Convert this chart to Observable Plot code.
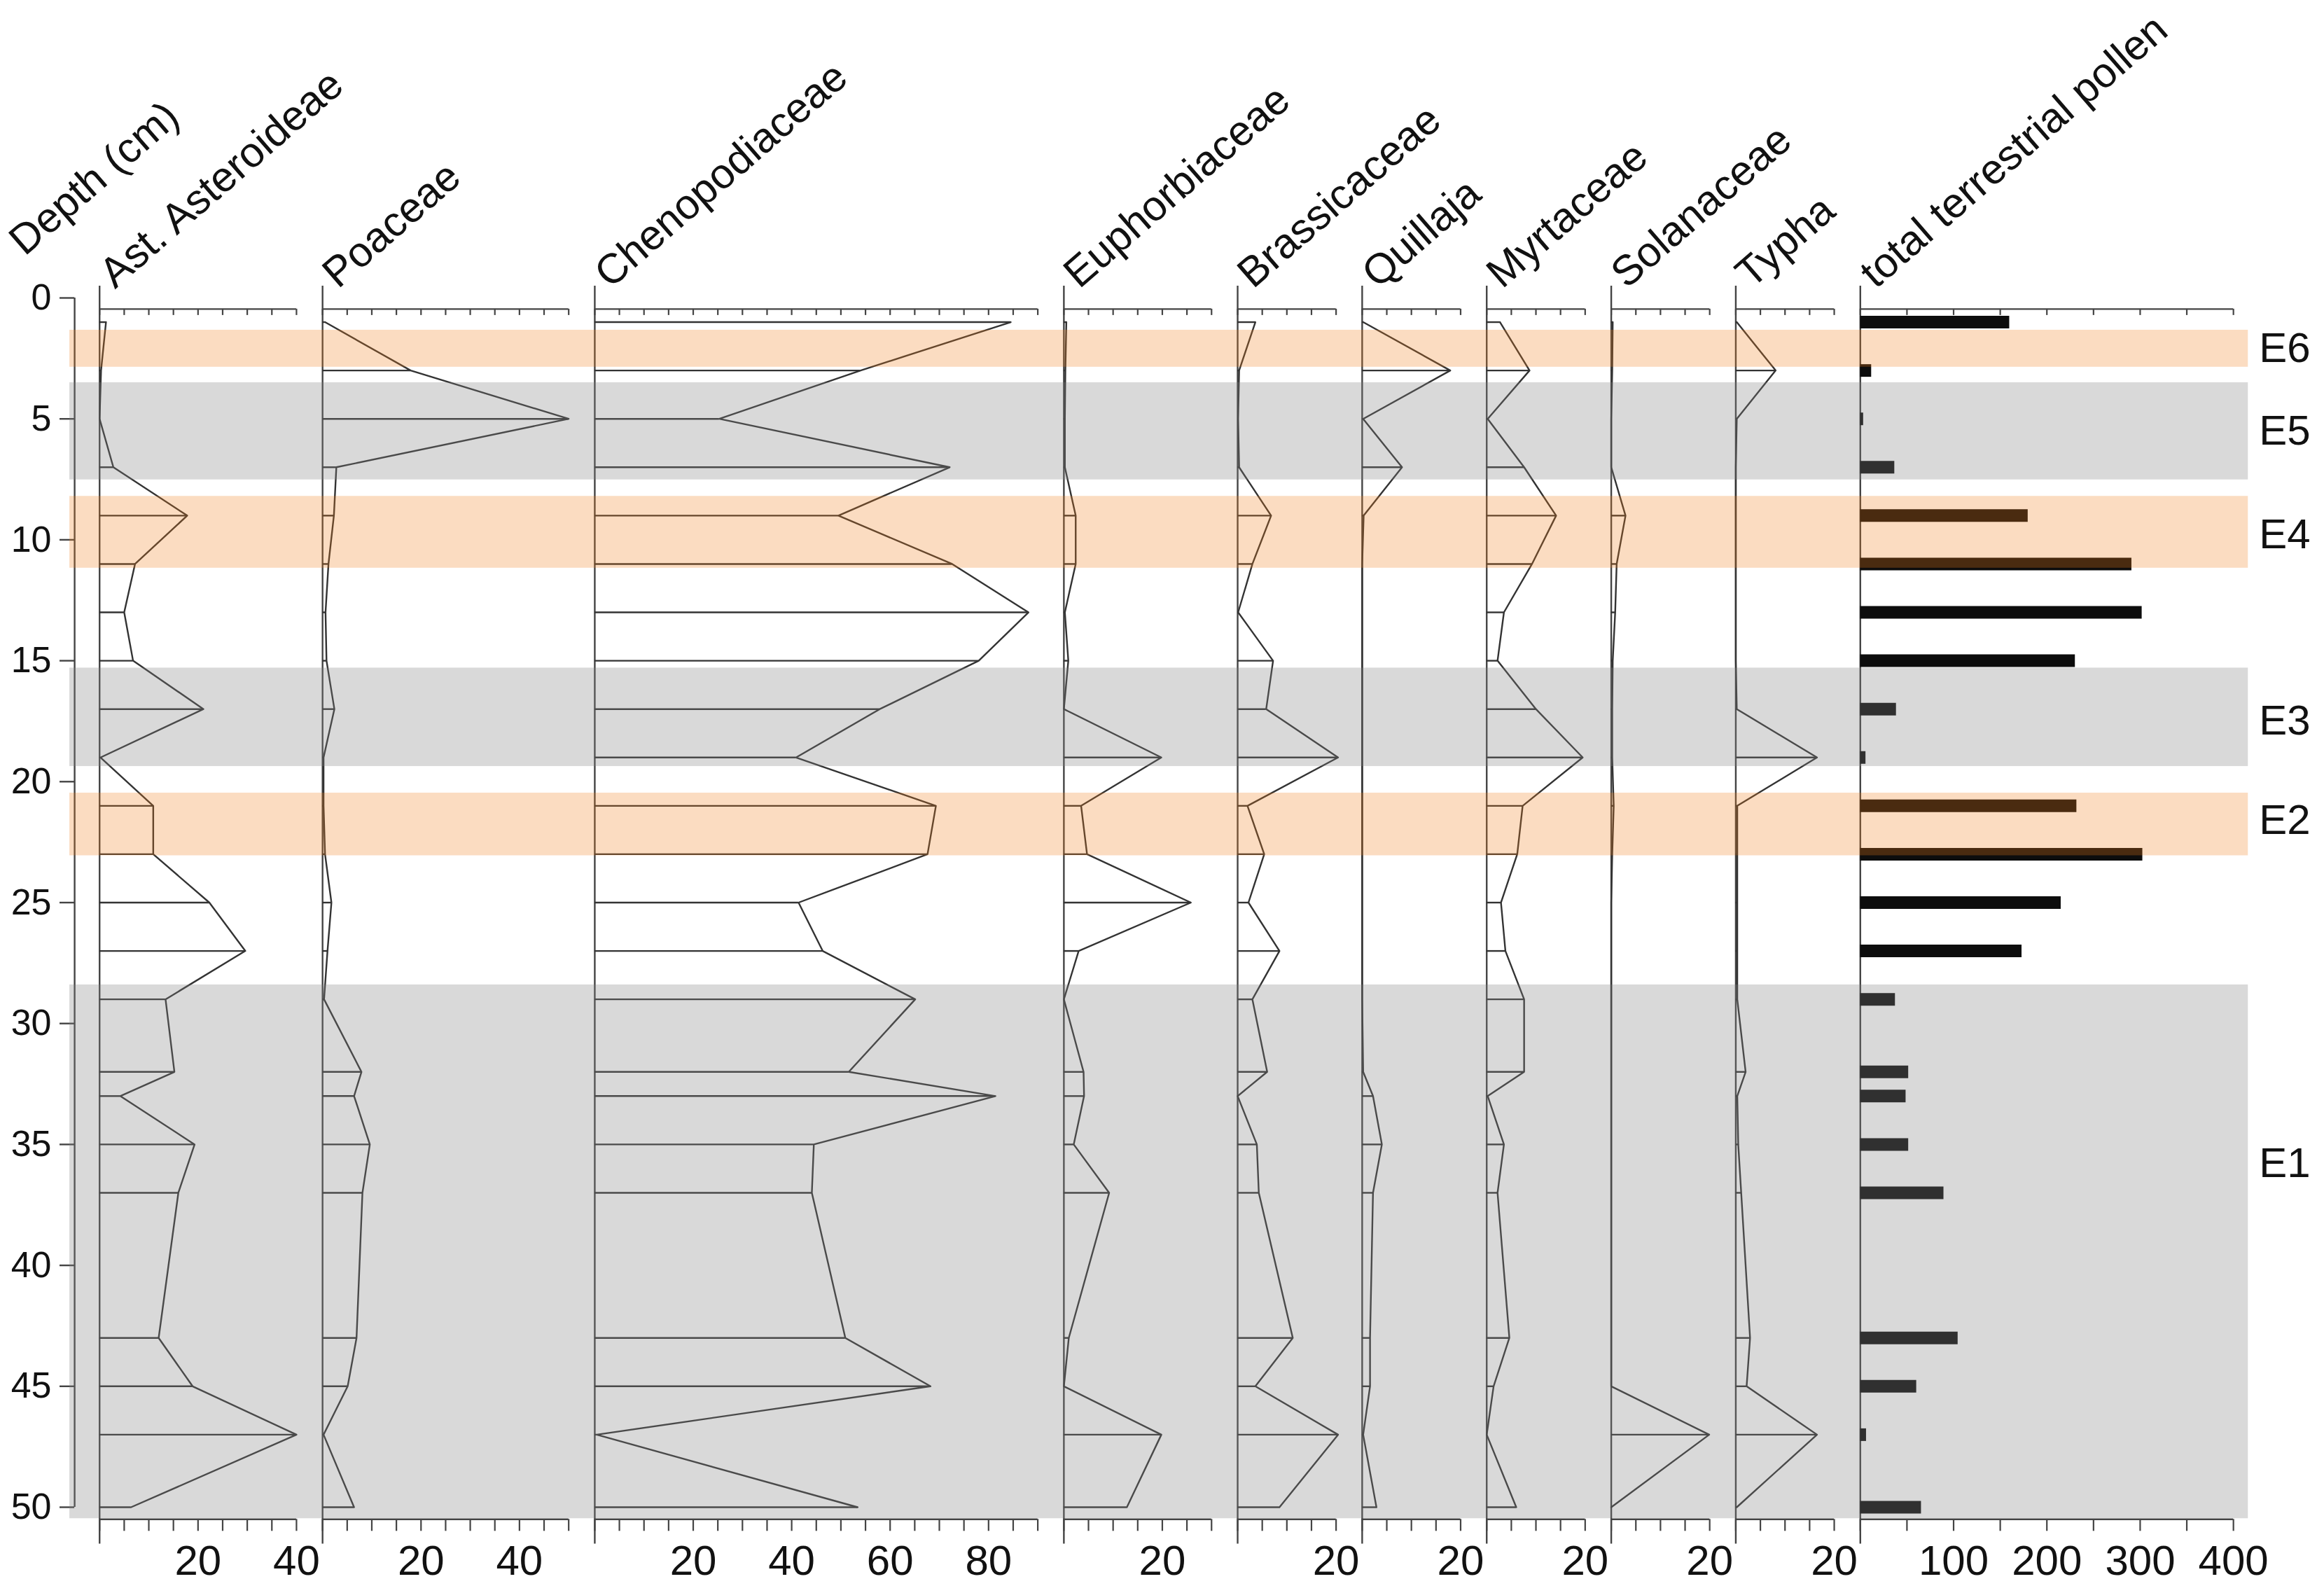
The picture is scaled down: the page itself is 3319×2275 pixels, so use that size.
<!DOCTYPE html>
<html>
<head>
<meta charset="utf-8">
<script src="https://cdn.jsdelivr.net/npm/d3@7"></script>
<script src="https://cdn.jsdelivr.net/npm/@observablehq/plot@0.6"></script>
<style>
  html, body { margin: 0; padding: 0; background: #fff; }
  svg { display: block; }
</style>
</head>
<body>
<div id="chart"></div>
<script>
// ---------------- DATA ----------------
const depths = [1, 3, 5, 7, 9, 11, 13, 15, 17, 19, 21, 23, 25, 27, 29, 32, 33, 35, 37, 43, 45, 47, 50];

const taxa = ["Ast. Asteroideae", "Poaceae", "Chenopodiaceae", "Euphorbiaceae", "Brassicaceae",
              "Quillaja", "Myrtaceae", "Solanaceae", "Typha"];
const taxaMax = [40, 50, 90, 30, 20, 20, 20, 20, 20];

const asteroideae   = [1.3, 0.3, 0, 2.8, 17.8, 7.2, 5.0, 6.8, 21.1, 0.2, 10.9, 10.9, 22.3, 29.6, 13.4, 15.2, 4.2, 19.3, 16.0, 12.0, 18.9, 40.0, 6.4];
const poaceae       = [0.5, 17.9, 50, 2.8, 2.3, 1.2, 0.6, 0.8, 2.4, 0.2, 0.2, 0.5, 1.8, 1.0, 0.3, 7.9, 6.4, 9.6, 8.1, 6.9, 5.1, 0.2, 6.4];
const chenopodiaceae= [84.5, 54, 25.3, 72.1, 49.5, 72.6, 88.1, 78.0, 57.9, 40.9, 69.3, 67.6, 41.4, 46.3, 65.1, 51.6, 81.4, 44.5, 44.1, 50.9, 68.2, 0.4, 53.4];
const euphorbiaceae = [0.5, 0.3, 0.2, 0.2, 2.4, 2.4, 0.2, 0.9, 0, 19.8, 3.5, 4.7, 25.8, 3.0, 0, 4.0, 4.1, 2.0, 9.2, 1.0, 0, 19.8, 12.8];
const brassicaceae  = [3.6, 0.3, 0.1, 0.3, 6.8, 3.0, 0.1, 7.2, 5.8, 20.4, 2.0, 5.4, 2.2, 8.5, 3.0, 6.0, 0, 3.9, 4.3, 11.2, 3.6, 20.4, 8.5];
const quillaja      = [0.2, 17.9, 0.2, 8.1, 0.3, 0, 0, 0, 0, 0, 0, 0, 0, 0, 0, 0.2, 2.2, 4.0, 2.2, 1.6, 1.6, 0.2, 2.9];
const myrtaceae     = [2.7, 8.7, 0.2, 7.6, 14.1, 9.2, 3.5, 2.2, 10.0, 19.5, 7.3, 6.2, 2.9, 3.8, 7.6, 7.6, 0.2, 3.5, 2.2, 4.6, 1.4, 0, 6.0];
const solanaceae    = [0.3, 0.2, 0, 0, 2.9, 1.1, 0.8, 0.3, 0.2, 0.2, 0.5, 0.2, 0, 0, 0, 0, 0, 0, 0, 0, 0, 19.9, 0];
const typha         = [0.2, 8.1, 0.2, 0, 0, 0, 0, 0, 0.2, 16.5, 0.3, 0.3, 0.3, 0.3, 0.3, 2.0, 0.3, 0.5, 1.1, 2.9, 2.2, 16.5, 0.2];

const totalLabel = "total terrestrial pollen";
const totalMax = 400;
const totalPollen = [160, 12, 3.4, 36.8, 179.8, 291, 302, 230.4, 38.6, 5.9, 232, 302.7, 215.2, 173.2, 37.5, 51.7, 48.9, 51.7, 89.5, 104.7, 60.3, 6.5, 65.4];

const depthTicks = [0, 5, 10, 15, 20, 25, 30, 35, 40, 45, 50];
const depthTitle = "Depth (cm)";

const zoneNames  = ["E6", "E5", "E4", "E3", "E2", "E1"];
const zoneTop    = [1.33, 3.5, 8.2, 15.3, 20.47, 28.4];
const zoneBottom = [2.86, 7.52, 11.17, 19.37, 23.06, 50.47];
const zoneKind   = ["orange", "gray", "orange", "gray", "orange", "gray"];
const zoneLabelDepth = [2.1, 5.5, 9.8, 17.5, 21.6, 35.8];

// ---------------- LAYOUT ----------------
const W = 3319, H = 2275;
const X_DOMAIN = [-20.16, 451.97];   // percent units across the page
const GAP = 5.3;                      // gap between panels (percent units)
const TOTAL_WIDTH = 75.8;             // width of the count panel (percent units)
const TOP_AXIS = 0.46, BOTTOM_AXIS = 50.5, BASE_TOP = -0.49, BASE_BOTTOM = 51.52;
const HEADER_Y = -0.35;
const DEPTH_AXIS_X = -5.07;
const ZONE_X1 = -6.07, ZONE_X2 = 436.5, ZONE_LABEL_X = 438.7;
const FONT = "'Liberation Sans', Arial, Helvetica, sans-serif";

const seriesValues = [asteroideae, poaceae, chenopodiaceae, euphorbiaceae, brassicaceae, quillaja, myrtaceae, solanaceae, typha];

const panels = [];
let off = 0;
taxa.forEach((name, i) => {
  panels.push({name, max: taxaMax[i], offset: off, k: 1, tickStep: 5, labelStep: 20, values: seriesValues[i], bars: false});
  off += taxaMax[i] + GAP;
});
panels.push({name: totalLabel, max: totalMax, offset: off, k: TOTAL_WIDTH / totalMax, tickStep: 50, labelStep: 100, values: totalPollen, bars: true});

const ticks = panels.flatMap(p => d3.range(0, p.max + 1e-9, p.tickStep).map(v => ({
  x: p.offset + v * p.k, v, label: v > 0 && v % p.labelStep === 0
})));

const curves = panels.filter(p => !p.bars).flatMap(p => depths.map((d, i) => ({
  name: p.name, depth: d, x0: p.offset, x: p.offset + p.values[i] * p.k
})));
const barsPanel = panels[panels.length - 1];
const bars = depths.map((d, i) => ({depth: d, x0: barsPanel.offset, x: barsPanel.offset + totalPollen[i] * barsPanel.k}));

const zones = zoneNames.map((name, i) => ({
  name, top: zoneTop[i], bottom: zoneBottom[i], kind: zoneKind[i], labelDepth: zoneLabelDepth[i]
}));
const zoneFill = {orange: "rgb(240,125,25)", gray: "rgb(128,128,128)"};
const zoneOpacity = {orange: 0.27, gray: 0.30};

const LINE = "#333";
const AXIS = "#444";

const chart = Plot.plot({
  width: W, height: H,
  marginTop: 0, marginRight: 0, marginBottom: 0, marginLeft: 0,
  style: {fontFamily: FONT, background: "#fff", color: "#111"},
  x: {type: "linear", domain: X_DOMAIN, range: [0, W], axis: null},
  y: {type: "linear", domain: [0, 50], range: [425, 2152], axis: null},
  marks: [
    // depth axis
    Plot.ruleX([DEPTH_AXIS_X], {x: d => d, y1: 0, y2: 50, stroke: AXIS, strokeWidth: 2.4}),
    Plot.ruleY(depthTicks, {y: d => d, x1: DEPTH_AXIS_X - 3, x2: DEPTH_AXIS_X, stroke: AXIS, strokeWidth: 2.4}),
    Plot.text(depthTicks, {x: DEPTH_AXIS_X - 3, y: d => d, text: d => String(d), textAnchor: "end", dx: -12, fontSize: 52, fill: "#111"}),
    // panel baselines
    Plot.ruleX(panels, {x: "offset", y1: BASE_TOP, y2: BASE_BOTTOM, stroke: AXIS, strokeWidth: 2.4}),
    // top and bottom axis lines
    Plot.ruleY(panels, {y: TOP_AXIS, x1: "offset", x2: p => p.offset + p.max * p.k, stroke: AXIS, strokeWidth: 2.4}),
    Plot.ruleY(panels, {y: BOTTOM_AXIS, x1: "offset", x2: p => p.offset + p.max * p.k, stroke: AXIS, strokeWidth: 2.4}),
    // ticks (hanging down from the axis lines)
    Plot.ruleX(ticks, {x: "x", y1: TOP_AXIS, y2: TOP_AXIS, insetBottom: -9, stroke: AXIS, strokeWidth: 2.2}),
    Plot.ruleX(ticks, {x: "x", y1: BOTTOM_AXIS, y2: BOTTOM_AXIS, insetBottom: -17, stroke: AXIS, strokeWidth: 2.2}),
    Plot.text(ticks.filter(t => t.label), {x: "x", y: BOTTOM_AXIS, text: t => String(t.v), dy: 60, fontSize: 60, fill: "#111"}),
    // pollen curves
    Plot.ruleY(curves, {y: "depth", x1: "x0", x2: "x", stroke: LINE, strokeWidth: 2.4}),
    Plot.line(curves, {x: "x", y: "depth", z: "name", stroke: LINE, strokeWidth: 2.4}),
    // total pollen bars
    Plot.ruleY(bars, {y: "depth", x1: "x0", x2: "x", stroke: "#0d0d0d", strokeWidth: 18}),
    // zone bands overlaid
    Plot.rect(zones, {x1: ZONE_X1, x2: ZONE_X2, y1: "top", y2: "bottom", fill: z => zoneFill[z.kind], fillOpacity: z => zoneOpacity[z.kind]}),
    Plot.text(zones, {x: ZONE_LABEL_X, y: "labelDepth", text: "name", textAnchor: "start", fontSize: 60, fill: "#111"}),
    // headers
    Plot.text(panels, {x: "offset", y: HEADER_Y, text: "name", rotate: -41, textAnchor: "start", lineAnchor: "bottom", dx: 22, fontSize: 60, fill: "#111"}),
    Plot.text([depthTitle], {x: -15.2, y: -1.7, text: d => d, rotate: -41, textAnchor: "start", lineAnchor: "bottom", fontSize: 60, fill: "#111"})
  ]
});
document.getElementById("chart").appendChild(chart);
</script>
</body>
</html>
